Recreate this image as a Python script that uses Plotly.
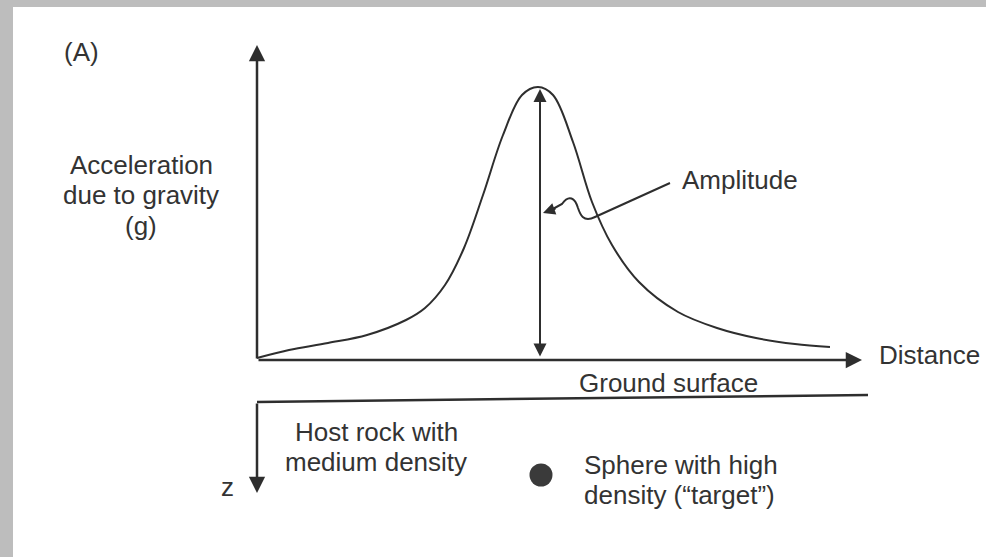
import plotly.graph_objects as go

# gravity anomaly profile over a buried dense sphere
distance = [0, 3.2, 7.1, 11.0, 14.9, 16.8, 18.8, 20.7, 22.6, 24.6, 26.5, 28.1,
            29.6, 31.6, 33.5, 35.5, 38.2, 42.1, 46.0, 49.9, 53.8, 57.3]
gravity = [0.2, 1.0, 1.7, 2.5, 4.0, 5.2, 7.5, 11.2, 16.5, 22.5, 26.5, 27.3,
           26.5, 21.8, 15.8, 11.5, 7.8, 4.8, 3.2, 2.2, 1.6, 1.3]

peak_x = 28.3
peak_g = 27.1
target_x = 28.4
target_depth = -11.5

INK = "#2e2e2e"
FONT = dict(family="Liberation Sans, Arial, sans-serif", size=26, color="#333333")
LINE_GAP = 3.05

fig = go.Figure()

fig.add_trace(go.Scatter(x=distance, y=gravity, mode="lines",
                         line=dict(color=INK, width=2, shape="spline"),
                         hoverinfo="skip", showlegend=False))

fig.add_trace(go.Scatter(x=[target_x], y=[target_depth], mode="markers",
                         marker=dict(size=23, color="#3a3a3a"),
                         hoverinfo="skip", showlegend=False))


def arrow(x0, y0, x1, y1, width=2.5, size=1.3, both=False):
    fig.add_annotation(x=x1, y=y1, ax=x0, ay=y0, xref="x", yref="y",
                       axref="x", ayref="y", text="", showarrow=True,
                       arrowhead=2, arrowsize=size, arrowwidth=width,
                       arrowcolor=INK,
                       arrowside="end+start" if both else "end",
                       startarrowhead=2, startarrowsize=size)


def label(x, y, lines, anchor="center"):
    # one annotation per line so the line spacing can follow the scan
    top = y + (len(lines) - 1) * LINE_GAP / 2
    for i, txt in enumerate(lines):
        fig.add_annotation(x=x, y=top - i * LINE_GAP, xref="x", yref="y",
                           text=txt, showarrow=False, xanchor=anchor,
                           yanchor="middle", font=FONT)


# axes of the graph
arrow(0, 0, 0, 31.5)
arrow(0, 0, 60.5, 0)
# amplitude
arrow(peak_x, 0.2, peak_x, peak_g, width=2, size=1.3, both=True)
# depth axis
arrow(0, -4.2, 0, -13.3)

# ground surface
fig.add_shape(type="line", x0=0, y0=-4.2, x1=61.1, y1=-3.5,
              line=dict(color=INK, width=2.5))

# wavy pointer to the amplitude arrow
fig.add_shape(type="path",
              path="M 41.3,17.7 L 33.8,14.3 C 32.6,13.7 32.3,14.6 32.1,15.2 "
                   "C 31.8,16.2 31.2,16.6 30.5,15.6 L 29.4,15.0",
              line=dict(color=INK, width=2))
fig.add_annotation(x=28.6, y=14.7, ax=30.0, ay=15.2, xref="x", yref="y",
                   axref="x", ayref="y", text="", showarrow=True,
                   arrowhead=2, arrowsize=1.2, arrowwidth=2, arrowcolor=INK)

label(-17.6, 30.8, ["(A)"])
label(-11.6, 16.5, ["Acceleration", "due to gravity", "(g)"])
label(48.3, 18.0, ["Amplitude"])
label(62.0, 0.5, ["Distance"], anchor="left")
label(41.1, -2.3, ["Ground surface"])
label(-3.0, -12.7, ["z"])
label(11.9, -8.7, ["Host rock with", "medium density"])
label(32.5, -12.0, ["Sphere with high", "density (\u201ctarget\u201d)"], anchor="left")

fig.update_layout(
    width=986, height=557,
    margin=dict(l=0, r=0, t=0, b=0),
    paper_bgcolor="#bdbdbd",
    plot_bgcolor="white",
    xaxis=dict(domain=[13 / 986, 1], range=[-24.4, 72.9], visible=False,
               fixedrange=True),
    yaxis=dict(domain=[0, 550 / 557], range=[-19.7, 35.3], visible=False,
               fixedrange=True),
    showlegend=False,
)

fig.write_html("out.html", config={"displayModeBar": False},
               post_script="document.body.style.margin = '0';")
